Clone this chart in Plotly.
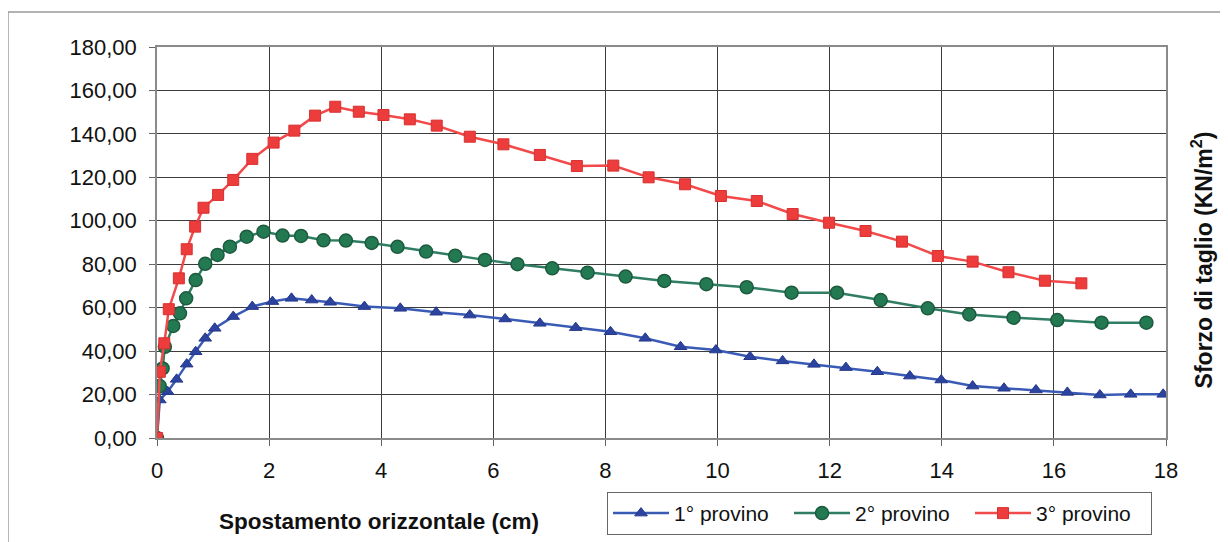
import plotly.graph_objects as go

# Data
x1 = [0, 0.05, 0.19, 0.35, 0.53, 0.69, 0.86, 1.03, 1.36, 1.70, 2.06, 2.40, 2.76, 3.09, 3.70, 4.34, 4.98,
      5.58, 6.21, 6.83, 7.47, 8.09, 8.71, 9.34, 9.97, 10.58, 11.16, 11.72, 12.29, 12.85, 13.43, 13.99,
      14.55, 15.11, 15.68, 16.24, 16.82, 17.37, 17.95]
y1 = [0, 17.5, 21.3, 27.0, 34.0, 39.7, 45.9, 50.5, 55.9, 60.5, 62.8, 64.3, 63.5, 62.5, 60.5, 59.7, 57.9,
      56.6, 54.8, 52.8, 50.8, 48.9, 45.9, 42.0, 40.5, 37.4, 35.5, 33.9, 32.4, 30.5, 28.5, 26.7,
      23.9, 22.9, 22.1, 21.0, 19.8, 20.1, 20.1]

x2 = [0, 0.05, 0.10, 0.14, 0.29, 0.41, 0.52, 0.69, 0.86, 1.08, 1.30, 1.60, 1.90, 2.24, 2.57, 2.97, 3.37,
      3.83, 4.29, 4.80, 5.32, 5.85, 6.43, 7.05, 7.68, 8.36, 9.05, 9.80, 10.52, 11.32, 12.13, 12.91,
      13.75, 14.49, 15.28, 16.06, 16.85, 17.65]
y2 = [0, 23.9, 32.0, 42.0, 51.6, 57.4, 64.3, 72.7, 80.2, 84.3, 88.1, 92.7, 95.0, 93.2, 93.0, 91.0, 90.9,
      89.8, 88.0, 85.8, 83.9, 82.0, 80.0, 78.1, 76.1, 74.3, 72.3, 70.8, 69.4, 66.9, 66.9, 63.5,
      59.7, 56.9, 55.4, 54.3, 53.1, 53.1]

x3 = [0, 0.05, 0.13, 0.21, 0.39, 0.53, 0.68, 0.83, 1.09, 1.36, 1.70, 2.08, 2.45, 2.82, 3.18, 3.60, 4.04,
      4.51, 4.99, 5.58, 6.18, 6.83, 7.49, 8.14, 8.77, 9.42, 10.06, 10.70, 11.34, 11.99, 12.64, 13.29,
      13.93, 14.55, 15.19, 15.84, 16.49]
y3 = [0, 30.5, 43.6, 59.3, 73.5, 86.9, 97.3, 106.0, 111.9, 118.8, 128.5, 136.0, 141.5, 148.4, 152.5,
      150.2, 148.7, 146.7, 143.8, 138.7, 135.2, 130.3, 125.2, 125.4, 120.0, 116.8, 111.4, 109.1, 103.1,
      99.1, 95.3, 90.4, 83.8, 81.2, 76.3, 72.4, 71.2]

names = ["1° provino", "2° provino", "3° provino"]
x_title = "Spostamento orizzontale (cm)"
y_title = "Sforzo di taglio (KN/m<sup>2</sup>)"

FONT = "Arial, Liberation Sans, sans-serif"

fig = go.Figure()
fig.add_trace(go.Scatter(
    x=x1, y=y1, name=names[0], mode="lines+markers",
    line=dict(color="#3a5bb5", width=2.5),
    marker=dict(symbol="triangle-up", size=11, color="#2c44a0",
                line=dict(color="#25388a", width=1)),
))
fig.add_trace(go.Scatter(
    x=x2, y=y2, name=names[1], mode="lines+markers",
    line=dict(color="#2f7d62", width=2.5),
    marker=dict(symbol="circle", size=13, color="#237a52",
                line=dict(color="#1d5a3e", width=1.5)),
))
fig.add_trace(go.Scatter(
    x=x3, y=y3, name=names[2], mode="lines+markers",
    line=dict(color="#f24a4a", width=2.5),
    marker=dict(symbol="square", size=11, color="#ec3c3c",
                line=dict(color="#d83030", width=1)),
))

# page body has an 8px default margin: compensate so the chart lands where the reference has it
fig.update_layout(
    width=1220, height=534,
    margin=dict(l=149, r=62, t=39, b=104, autoexpand=False),
    paper_bgcolor="white", plot_bgcolor="white",
    separators=",.",
    font=dict(family=FONT, size=22, color="#111"),
    showlegend=True,
    legend=dict(
        orientation="h", x=0.446, y=-0.138, xanchor="left", yanchor="top",
        bordercolor="#666", borderwidth=1, font=dict(size=21, family=FONT, color="#111"),
        itemwidth=56, entrywidth=110, traceorder="normal",
    ),
    xaxis=dict(
        range=[0, 18], dtick=2, tick0=0, showgrid=True, gridcolor="#3c3c3c", gridwidth=1,
        showline=True, linecolor="#8a8a8a", linewidth=1.5, mirror=True,
        ticks="outside", ticklen=6, tickcolor="#666", ticklabelstandoff=6,
        zeroline=False, tickfont=dict(size=22),
    ),
    yaxis=dict(
        range=[0, 180], dtick=20, tick0=0, tickformat=".2f",
        showgrid=True, gridcolor="#3c3c3c", gridwidth=1,
        showline=True, linecolor="#8a8a8a", linewidth=1.5, mirror=True,
        ticks="outside", ticklen=6, tickcolor="#666", ticklabelstandoff=8,
        zeroline=False, tickfont=dict(size=22),
    ),
    annotations=[
        dict(text="<b>" + x_title + "</b>", xref="paper", yref="paper",
             x=0.22, y=-0.213, xanchor="center", yanchor="middle", showarrow=False,
             font=dict(size=22.5, family=FONT, color="#111")),
        dict(text="<b>" + y_title + "</b>", xref="paper", yref="paper",
             x=1.036, y=0.455, xanchor="center", yanchor="middle", showarrow=False,
             textangle=-90, font=dict(size=23, family=FONT, color="#111")),
    ],
    shapes=[
        dict(type="rect", xref="paper", yref="paper",
             x0=-0.1477, x1=1.0565, y0=-0.30, y1=1.0895,
             line=dict(color="#9a9a9a", width=1.5), fillcolor="rgba(0,0,0,0)", layer="below"),
    ],
)

fig.write_html("out.html")
